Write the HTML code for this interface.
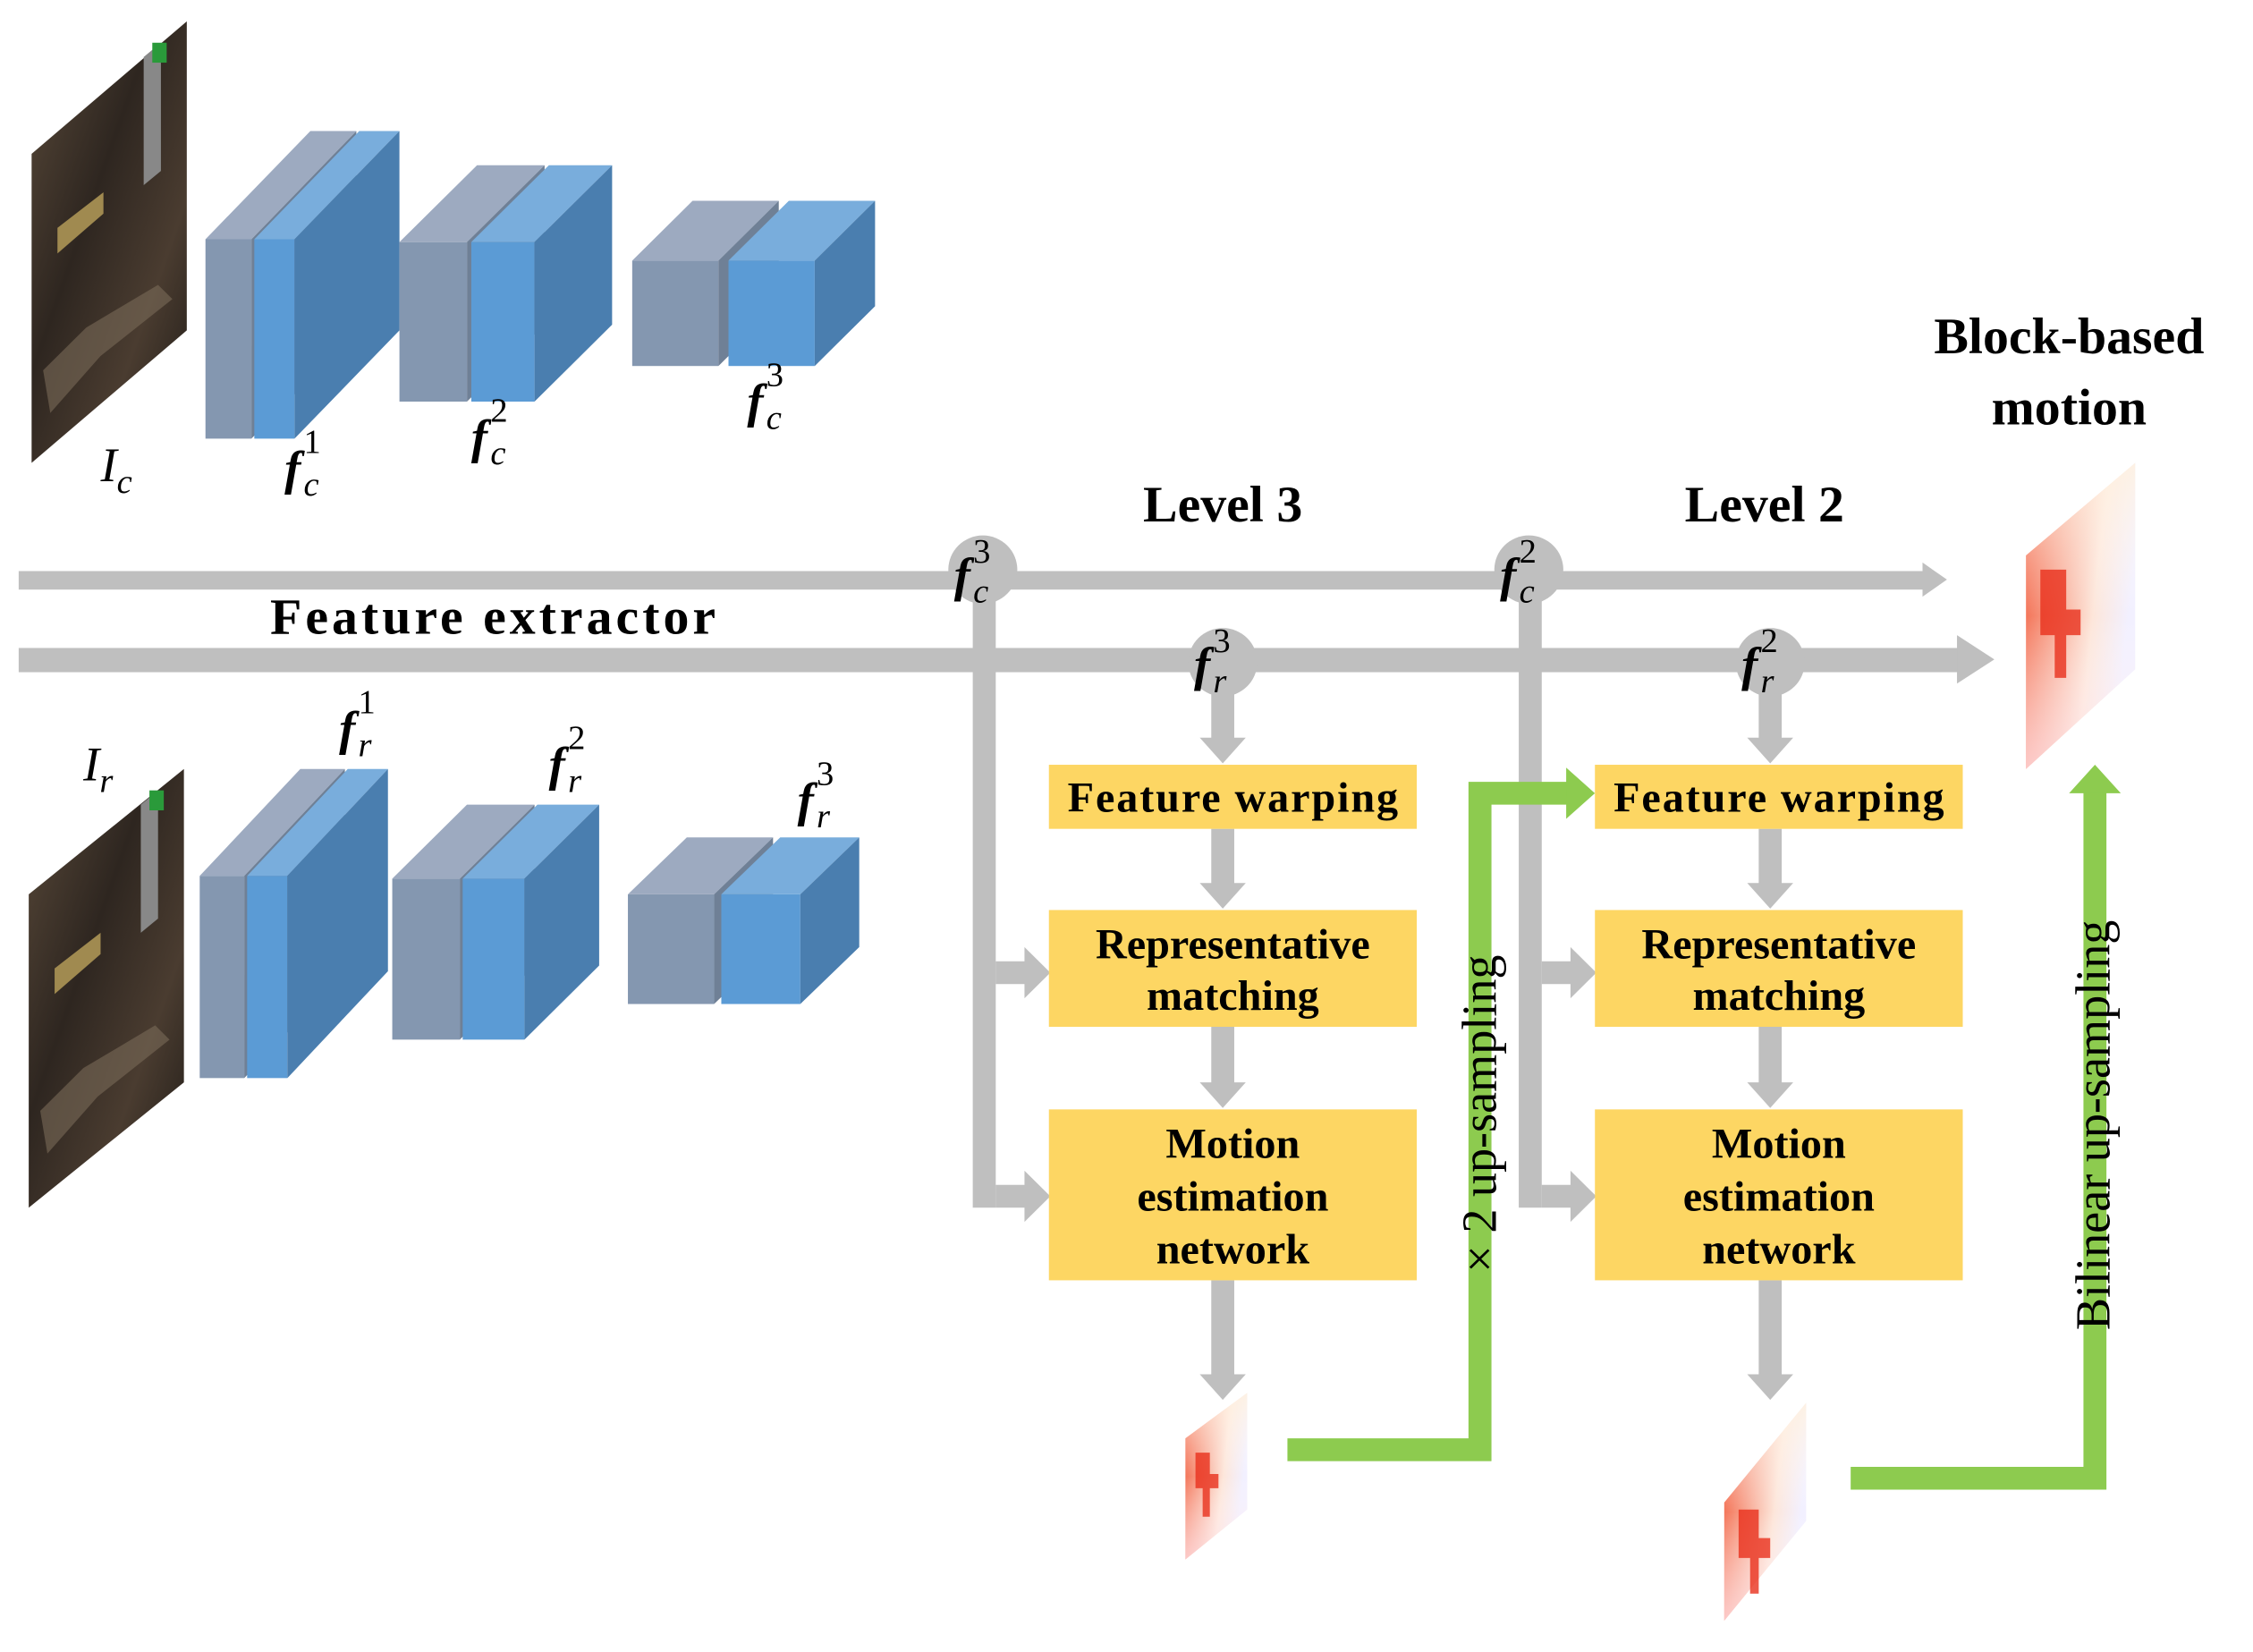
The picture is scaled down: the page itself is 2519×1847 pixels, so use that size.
<!DOCTYPE html>
<html><head><meta charset="utf-8"><style>html,body{margin:0;padding:0;background:#fff}svg{display:block}</style></head>
<body>
<svg width="2519" height="1847" viewBox="0 0 1568 1160" preserveAspectRatio="none" xmlns="http://www.w3.org/2000/svg">
<defs>
<linearGradient id="ph" x1="0" y1="0" x2="1" y2="1">
<stop offset="0" stop-color="#5a4a3a"/><stop offset="0.4" stop-color="#2e2620"/><stop offset="0.7" stop-color="#4a3c30"/><stop offset="1" stop-color="#1e1a16"/></linearGradient>
<linearGradient id="mo" x1="0" y1="0" x2="1" y2="0.3">
<stop offset="0" stop-color="#f25a3a"/><stop offset="0.35" stop-color="#f7a08a"/><stop offset="0.7" stop-color="#fde6da"/><stop offset="1" stop-color="#f2f0ff"/></linearGradient>
<linearGradient id="mo2" x1="0" y1="0" x2="0" y2="1">
<stop offset="0" stop-color="#fff2e0" stop-opacity="0.8"/><stop offset="0.5" stop-color="#ffffff" stop-opacity="0"/><stop offset="1" stop-color="#ffe0e8" stop-opacity="0.7"/></linearGradient>
</defs>
<g font-family="Liberation Serif, serif">

<!-- Ic photo -->
<polygon points="22,108 130,15 130,232 22,325" fill="url(#ph)"/>
<polygon points="40,160 72,135 72,150 40,178" fill="#a08a50"/>
<polygon points="100,40 112,30 112,120 100,130" fill="#888"/>
<rect x="106" y="30" width="10" height="14" fill="#2a9a3a"/>
<polygon points="30,260 60,230 110,200 120,210 70,250 35,290" fill="#7a6a58" opacity="0.6"/>
<!-- Ir photo -->
<polygon points="20,628 128,540 128,760 20,848" fill="url(#ph)"/>
<polygon points="38,680 70,655 70,670 38,698" fill="#a08a50"/>
<polygon points="98,565 110,555 110,645 98,655" fill="#888"/>
<rect x="104" y="555" width="10" height="14" fill="#2a9a3a"/>
<polygon points="28,780 58,750 108,720 118,730 68,770 33,810" fill="#7a6a58" opacity="0.6"/>

<!-- blocks top -->
<g>
<rect x="143" y="168" width="32" height="140" fill="#8497B0"/><polygon points="143,168 216,92 248,92 175,168" fill="#9DAAC0"/><polygon points="175,168 248,92 248,232 175,308" fill="#6F8096"/>
<rect x="177" y="168" width="28" height="140" fill="#5B9BD5"/><polygon points="177,168 250,92 278,92 205,168" fill="#79ADDC"/><polygon points="205,168 278,92 278,232 205,308" fill="#4A7EAF"/>
<rect x="278" y="170" width="47" height="112" fill="#8497B0"/><polygon points="278,170 332,116 379,116 325,170" fill="#9DAAC0"/><polygon points="325,170 379,116 379,228 325,282" fill="#6F8096"/>
<rect x="328" y="170" width="44" height="112" fill="#5B9BD5"/><polygon points="328,170 382,116 426,116 372,170" fill="#79ADDC"/><polygon points="372,170 426,116 426,228 372,282" fill="#4A7EAF"/>
<rect x="440" y="183" width="60" height="74" fill="#8497B0"/><polygon points="440,183 482,141 542,141 500,183" fill="#9DAAC0"/><polygon points="500,183 542,141 542,215 500,257" fill="#6F8096"/>
<rect x="507" y="183" width="60" height="74" fill="#5B9BD5"/><polygon points="507,183 549,141 609,141 567,183" fill="#79ADDC"/><polygon points="567,183 609,141 609,215 567,257" fill="#4A7EAF"/>
</g>
<!-- blocks bottom -->
<g>
<rect x="139" y="615" width="31" height="142" fill="#8497B0"/><polygon points="139,615 209,540 240,540 170,615" fill="#9DAAC0"/><polygon points="170,615 240,540 240,682 170,757" fill="#6F8096"/>
<rect x="172" y="615" width="28" height="142" fill="#5B9BD5"/><polygon points="172,615 242,540 270,540 200,615" fill="#79ADDC"/><polygon points="200,615 270,540 270,682 200,757" fill="#4A7EAF"/>
<rect x="273" y="617" width="47" height="113" fill="#8497B0"/><polygon points="273,617 325,565 372,565 320,617" fill="#9DAAC0"/><polygon points="320,617 372,565 372,678 320,730" fill="#6F8096"/>
<rect x="322" y="617" width="43" height="113" fill="#5B9BD5"/><polygon points="322,617 374,565 417,565 365,617" fill="#79ADDC"/><polygon points="365,617 417,565 417,678 365,730" fill="#4A7EAF"/>
<rect x="437" y="628" width="60" height="77" fill="#8497B0"/><polygon points="437,628 478,588 538,588 497,628" fill="#9DAAC0"/><polygon points="497,628 538,588 538,665 497,705" fill="#6F8096"/>
<rect x="502" y="628" width="55" height="77" fill="#5B9BD5"/><polygon points="502,628 543,588 598,588 557,628" fill="#79ADDC"/><polygon points="557,628 598,588 598,665 557,705" fill="#4A7EAF"/>
</g>

<!-- labels for blocks -->
<g font-style="italic" font-size="34">
<text x="70" y="338">I<tspan font-size="24" dy="8">c</tspan></text>
<text x="198" y="340" font-weight="bold">f<tspan font-size="24" font-style="normal" font-weight="normal" dx="2" dy="-22">1</tspan><tspan font-size="24" font-weight="normal" dx="-12" dy="30">c</tspan></text>
<text x="328" y="318" font-weight="bold">f<tspan font-size="24" font-style="normal" font-weight="normal" dx="2" dy="-22">2</tspan><tspan font-size="24" font-weight="normal" dx="-12" dy="30">c</tspan></text>
<text x="520" y="293" font-weight="bold">f<tspan font-size="24" font-style="normal" font-weight="normal" dx="2" dy="-22">3</tspan><tspan font-size="24" font-weight="normal" dx="-12" dy="30">c</tspan></text>
<text x="58" y="548">I<tspan font-size="24" dy="8">r</tspan></text>
<text x="236" y="523" font-weight="bold">f<tspan font-size="24" font-style="normal" font-weight="normal" dx="2" dy="-22">1</tspan><tspan font-size="24" font-weight="normal" dx="-12" dy="30">r</tspan></text>
<text x="382" y="548" font-weight="bold">f<tspan font-size="24" font-style="normal" font-weight="normal" dx="2" dy="-22">2</tspan><tspan font-size="24" font-weight="normal" dx="-12" dy="30">r</tspan></text>
<text x="555" y="573" font-weight="bold">f<tspan font-size="24" font-style="normal" font-weight="normal" dx="2" dy="-22">3</tspan><tspan font-size="24" font-weight="normal" dx="-12" dy="30">r</tspan></text>
</g>

<!-- gray connectors -->
<g fill="#BFBFBF">
<rect x="13" y="401" width="1327" height="13"/>
<polygon points="1338,395 1355,407 1338,419"/>
<rect x="13" y="455" width="1352" height="17"/>
<polygon points="1362,446 1388,463 1362,480"/>
<rect x="677" y="400" width="16" height="448"/>
<rect x="693" y="675" width="22" height="16"/><polygon points="713,665 731,683 713,701"/>
<rect x="693" y="832" width="22" height="16"/><polygon points="713,822 731,840 713,858"/>
<rect x="1057" y="400" width="16" height="448"/>
<rect x="1073" y="675" width="22" height="16"/><polygon points="1093,665 1111,683 1093,701"/>
<rect x="1073" y="832" width="22" height="16"/><polygon points="1093,822 1111,840 1093,858"/>
<rect x="843" y="480" width="16" height="40"/><polygon points="835,518 867,518 851,536"/>
<rect x="843" y="582" width="16" height="40"/><polygon points="835,620 867,620 851,638"/>
<rect x="843" y="721" width="16" height="40"/><polygon points="835,760 867,760 851,778"/>
<rect x="843" y="899" width="16" height="68"/><polygon points="835,965 867,965 851,983"/>
<rect x="1224" y="480" width="16" height="40"/><polygon points="1216,518 1248,518 1232,536"/>
<rect x="1224" y="582" width="16" height="40"/><polygon points="1216,620 1248,620 1232,638"/>
<rect x="1224" y="721" width="16" height="40"/><polygon points="1216,760 1248,760 1232,778"/>
<rect x="1224" y="899" width="16" height="68"/><polygon points="1216,965 1248,965 1232,983"/>
<circle cx="684" cy="400" r="24"/><circle cx="1064" cy="400" r="24"/>
<circle cx="851" cy="465" r="24"/><circle cx="1232" cy="465" r="24"/>
</g>
<g font-style="italic" font-size="34">
<text x="664" y="415" font-weight="bold">f<tspan font-size="24" font-style="normal" font-weight="normal" dx="2" dy="-20">3</tspan><tspan font-size="24" font-weight="normal" dx="-12" dy="28">c</tspan></text>
<text x="1044" y="415" font-weight="bold">f<tspan font-size="24" font-style="normal" font-weight="normal" dx="2" dy="-20">2</tspan><tspan font-size="24" font-weight="normal" dx="-12" dy="28">c</tspan></text>
<text x="831" y="478" font-weight="bold">f<tspan font-size="24" font-style="normal" font-weight="normal" dx="2" dy="-20">3</tspan><tspan font-size="24" font-weight="normal" dx="-12" dy="28">r</tspan></text>
<text x="1212" y="478" font-weight="bold">f<tspan font-size="24" font-style="normal" font-weight="normal" dx="2" dy="-20">2</tspan><tspan font-size="24" font-weight="normal" dx="-12" dy="28">r</tspan></text>
</g>

<!-- yellow boxes -->
<g fill="#FDD663">
<rect x="730" y="537" width="256" height="45"/>
<rect x="730" y="639" width="256" height="82"/>
<rect x="730" y="779" width="256" height="120"/>
<rect x="1110" y="537" width="256" height="45"/>
<rect x="1110" y="639" width="256" height="82"/>
<rect x="1110" y="779" width="256" height="120"/>
</g>
<g font-weight="bold" font-size="30" text-anchor="middle" fill="#000">
<text x="858" y="570" textLength="230">Feature warping</text>
<text x="858" y="673">Representative</text>
<text x="858" y="709">matching</text>
<text x="858" y="813">Motion</text>
<text x="858" y="850">estimation</text>
<text x="858" y="887">network</text>
<text x="1238" y="570" textLength="230">Feature warping</text>
<text x="1238" y="673">Representative</text>
<text x="1238" y="709">matching</text>
<text x="1238" y="813">Motion</text>
<text x="1238" y="850">estimation</text>
<text x="1238" y="887">network</text>
<text x="851" y="366" font-size="36">Level 3</text>
<text x="1228" y="366" font-size="36">Level 2</text>
<text x="1440" y="248" font-size="36">Block-based</text>
<text x="1440" y="298" font-size="36">motion</text>
<text x="343" y="445" font-size="36" textLength="310">Feature extractor</text>
</g>

<!-- motion images -->
<polygon points="825,1010 868,978 868,1060 825,1095" fill="url(#mo)"/>
<polygon points="825,1010 868,978 868,1060 825,1095" fill="url(#mo2)"/>
<polygon points="1200,1055 1257,985 1257,1068 1200,1138" fill="url(#mo)"/>
<polygon points="1200,1055 1257,985 1257,1068 1200,1138" fill="url(#mo2)"/>
<polygon points="1410,390 1486,325 1486,470 1410,540" fill="url(#mo)"/>
<polygon points="1410,390 1486,325 1486,470 1410,540" fill="url(#mo2)"/>
<path d="M832,1020 h10 v15 h6 v10 h-6 v20 h-5 v-20 h-5z" fill="#e8301c" opacity="0.8"/>
<path d="M1210,1060 h14 v20 h8 v14 h-8 v25 h-6 v-25 h-8z" fill="#e8301c" opacity="0.8"/>
<path d="M1420,400 h18 v28 h10 v18 h-10 v30 h-8 v-30 h-10z" fill="#e8301c" opacity="0.8"/>

<!-- green connectors -->
<g fill="#8DCB4F">
<path d="M896,1010 H1022 V549 H1092 V565 H1038 V1026 H896 Z"/>
<polygon points="1090,539 1110,557 1090,575"/>
<path d="M1288,1030 H1450 V555 H1466 V1046 H1288 Z"/>
<polygon points="1440,557 1458,537 1476,557"/>
</g>
<text transform="translate(1041,782) rotate(-90)" font-size="34" text-anchor="middle" fill="#000">× 2 up-sampling</text>
<text transform="translate(1468,790) rotate(-90)" font-size="34" text-anchor="middle" fill="#000">Bilinear up-sampling</text>
</g>
</svg>
</body></html>
